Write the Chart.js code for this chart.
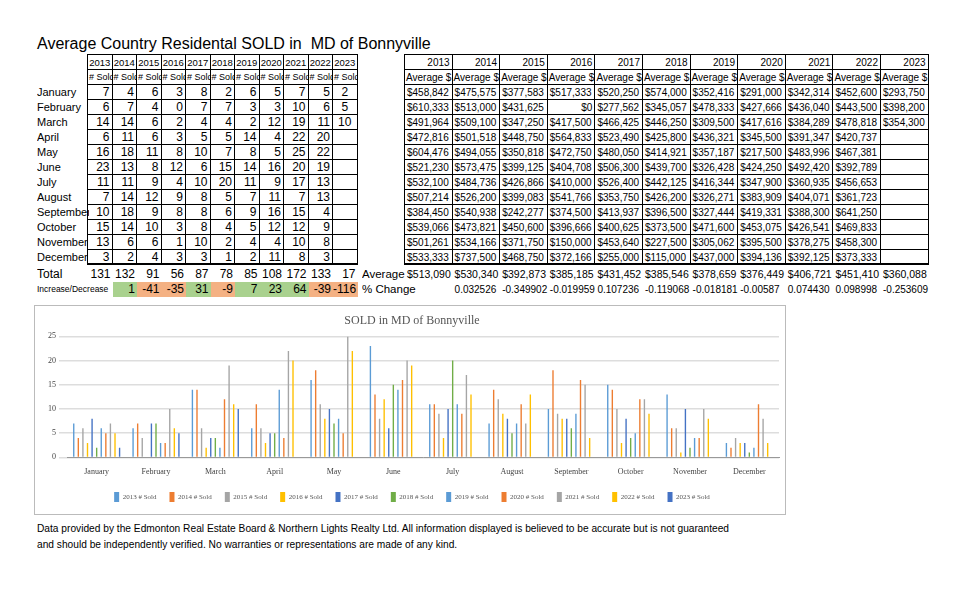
<!DOCTYPE html>
<html>
<head>
<meta charset="utf-8">
<script src="https://cdn.jsdelivr.net/npm/chart.js@4"></script>
<style>
  body { margin: 0; background: #fff; font-family: "Liberation Sans Narrow", "Liberation Sans", Arial, sans-serif; }
  #page { position: relative; width: 965px; height: 603px; }
  .c { position: absolute; box-sizing: border-box; font-size: 11px; line-height: 15px; height: 15px; white-space: nowrap; overflow: hidden; }
  .b { border-right: 1px solid #000; border-bottom: 1px solid #000; }
  .r { text-align: right; padding-right: 2px; }
  .m { text-align: center; }
  #title { position: absolute; left: 37px; top: 35px; font-family: "Liberation Sans", Arial, sans-serif; font-size: 16px; }
  #chartBox { position: absolute; left: 34px; top: 305px; width: 752px; height: 210px; border: 1px solid #bbb; box-sizing: border-box; }
  #foot { position: absolute; left: 37px; top: 521px; font-family: "Liberation Sans", Arial, sans-serif; font-size: 10.2px; line-height: 16px; }
</style>
</head>
<body>
<div id="page">
  <div id="title">Average Country Residental SOLD in&nbsp; MD of Bonnyville</div>
  <div id="chartBox"><canvas id="soldChart"></canvas></div>
  <div id="foot">Data provided by the Edmonton Real Estate Board &amp; Northern Lights Realty Ltd. All information displayed is believed to be accurate but is not guaranteed<br>and should be independently verified. No warranties or representations are made of any kind.</div>
</div>
<script>
const years = ['2013', '2014', '2015', '2016', '2017', '2018', '2019', '2020', '2021', '2022', '2023'];
const months = ['January', 'February', 'March', 'April', 'May', 'June', 'July', 'August', 'September', 'October', 'November', 'December'];

// sold counts per year, January..December
const sold2013 = [7, 6, 14, 6, 16, 23, 11, 7, 10, 15, 13, 3];
const sold2014 = [4, 7, 14, 11, 18, 13, 11, 14, 18, 14, 6, 2];
const sold2015 = [6, 4, 6, 6, 11, 8, 9, 12, 9, 10, 6, 4];
const sold2016 = [3, 0, 2, 3, 8, 12, 4, 9, 8, 3, 1, 3];
const sold2017 = [8, 7, 4, 5, 10, 6, 10, 8, 8, 8, 10, 3];
const sold2018 = [2, 7, 4, 5, 7, 15, 20, 5, 6, 4, 2, 1];
const sold2019 = [6, 3, 2, 14, 8, 14, 11, 7, 9, 5, 4, 2];
const sold2020 = [5, 3, 12, 4, 5, 16, 9, 11, 16, 12, 4, 11];
const sold2021 = [7, 10, 19, 22, 25, 20, 17, 7, 15, 12, 10, 8];
const sold2022 = [5, 6, 11, 20, 22, 19, 13, 13, 4, 9, 8, 3];
const sold2023 = [2, 5, 10, null, null, null, null, null, null, null, null, null];
const soldByYear = [sold2013, sold2014, sold2015, sold2016, sold2017, sold2018, sold2019, sold2020, sold2021, sold2022, sold2023];

const totals = [131, 132, 91, 56, 87, 78, 85, 108, 172, 133, 17];
const increase = [null, 1, -41, -35, 31, -9, 7, 23, 64, -39, -116];

// average price per year, January..December
const avg2013 = ['$458,842', '$610,333', '$491,964', '$472,816', '$604,476', '$521,230', '$532,100', '$507,214', '$384,450', '$539,066', '$501,261', '$533,333'];
const avg2014 = ['$475,575', '$513,000', '$509,100', '$501,518', '$494,055', '$573,475', '$484,736', '$526,200', '$540,938', '$473,821', '$534,166', '$737,500'];
const avg2015 = ['$377,583', '$431,625', '$347,250', '$448,750', '$350,818', '$399,125', '$426,866', '$399,083', '$242,277', '$450,600', '$371,750', '$468,750'];
const avg2016 = ['$517,333', '$0', '$417,500', '$564,833', '$472,750', '$404,708', '$410,000', '$541,766', '$374,500', '$396,666', '$150,000', '$372,166'];
const avg2017 = ['$520,250', '$277,562', '$466,425', '$523,490', '$480,050', '$506,300', '$526,400', '$353,750', '$413,937', '$400,625', '$453,640', '$255,000'];
const avg2018 = ['$574,000', '$345,057', '$446,250', '$425,800', '$414,921', '$439,700', '$442,125', '$426,200', '$396,500', '$373,500', '$227,500', '$115,000'];
const avg2019 = ['$352,416', '$478,333', '$309,500', '$436,321', '$357,187', '$326,428', '$416,344', '$326,271', '$327,444', '$471,600', '$305,062', '$437,000'];
const avg2020 = ['$291,000', '$427,666', '$417,616', '$345,500', '$217,500', '$424,250', '$347,900', '$383,909', '$419,331', '$453,075', '$395,500', '$394,136'];
const avg2021 = ['$342,314', '$436,040', '$384,289', '$391,347', '$483,996', '$492,420', '$360,935', '$404,071', '$388,300', '$426,541', '$378,275', '$392,125'];
const avg2022 = ['$452,600', '$443,500', '$478,818', '$420,737', '$467,381', '$392,789', '$456,653', '$361,723', '$641,250', '$469,833', '$458,300', '$373,333'];
const avg2023 = ['$293,750', '$398,200', '$354,300', '', '', '', '', '', '', '', '', ''];
const avgByYear = [avg2013, avg2014, avg2015, avg2016, avg2017, avg2018, avg2019, avg2020, avg2021, avg2022, avg2023];

const yearAverage = ['$513,090', '$530,340', '$392,873', '$385,185', '$431,452', '$385,546', '$378,659', '$376,449', '$406,721', '$451,410', '$360,088'];
const pctChange = ['', '0.032526', '-0.349902', '-0.019959', '0.107236', '-0.119068', '-0.018181', '-0.00587', '0.074430', '0.098998', '-0.253609'];

const seriesColors = ['#5B9BD5', '#ED7D31', '#A5A5A5', '#FFC000', '#4472C4', '#70AD47',
                      '#5B9BD5', '#ED7D31', '#A5A5A5', '#FFC000', '#4472C4'];

// ---- spreadsheet tables ----
const page = document.getElementById('page');
function cell(x, y, w, text, cls, extra) {
    const d = document.createElement('div');
    d.className = 'c ' + (cls || '');
    d.style.left = x + 'px';
    d.style.top = y + 'px';
    d.style.width = w + 'px';
    d.textContent = text;
    if (extra) Object.assign(d.style, extra);
    page.appendChild(d);
    return d;
}

const rowTop = 55, rowH = 15;
const leftX = 88, leftW = 24.5;
const rightX = 405, rightW = 47.6;

// outer borders
cell(leftX - 1, rowTop - 1, leftW * 11 + 1, '', '', { height: (rowH * 14 + 1) + 'px', border: '1px solid #000', borderBottom: '2px solid #000', background: 'transparent' });
cell(rightX - 1, rowTop - 1, rightW * 11 + 1, '', '', { height: (rowH * 14 + 1) + 'px', border: '1px solid #000', borderBottom: '2px solid #000', background: 'transparent' });

months.forEach((m, i) => cell(37, rowTop + rowH * (i + 2), 52, m, '', { fontFamily: '"Liberation Sans", Arial, sans-serif' }));

years.forEach((y, j) => {
    const lx = leftX + leftW * j, rx = rightX + rightW * j;
    cell(lx, rowTop, leftW, y, 'b m', { fontSize: '9.5px' });
    cell(lx, rowTop + rowH, leftW, '# Sold', 'b', { fontSize: '9px', paddingLeft: '1px' });
    cell(rx, rowTop, rightW, y, 'b r', { fontSize: '10px' });
    cell(rx, rowTop + rowH, rightW, 'Average $', 'b', { fontSize: '10px', paddingLeft: '1px' });
    for (let i = 0; i < 12; i++) {
        const v = soldByYear[j][i];
        cell(lx, rowTop + rowH * (i + 2), leftW, v === null ? '' : String(v), 'b ' + (j === 10 ? 'm' : 'r'), { fontSize: '12px' });
        cell(rx, rowTop + rowH * (i + 2), rightW, avgByYear[j][i], 'b ' + (avgByYear[j][i] === '$0' ? 'r' : ''), { fontSize: '10px', paddingLeft: '2px' });
    }
    cell(lx, rowTop + rowH * 14 + 2, leftW, String(totals[j]), 'r', { fontSize: '12px' });
    if (increase[j] !== null) {
        cell(lx, rowTop + rowH * 15 + 2, leftW, String(increase[j]), 'r',
             { fontSize: '12px', background: increase[j] >= 0 ? '#A9D18E' : '#F4B183' });
    }
    cell(rx, rowTop + rowH * 14 + 2, rightW, yearAverage[j], '', { fontSize: '10.5px', paddingLeft: '2px' });
    cell(rx, rowTop + rowH * 15 + 2, rightW, pctChange[j], '', { fontSize: '10px', paddingLeft: '2px' });
});
cell(37, rowTop + rowH * 14 + 2, 50, 'Total', '', { fontSize: '12px' });
cell(37, rowTop + rowH * 15 + 2, 75, 'Increase/Decrease', '', { fontSize: '8.5px' });
cell(362, rowTop + rowH * 14 + 2, 45, 'Average', '', { fontSize: '11.5px' });
cell(362, rowTop + rowH * 15 + 2, 60, '% Change', '', { fontSize: '11.5px' });

// ---- chart ----
const ctx = document.getElementById('soldChart').getContext('2d');
new Chart(ctx, {
    type: 'bar',
    data: {
        labels: months,
        datasets: years.map((y, j) => ({
            label: y + ' # Sold',
            data: soldByYear[j],
            backgroundColor: seriesColors[j],
            barPercentage: 0.3,
            categoryPercentage: 0.85
        }))
    },
    options: {
        responsive: true,
        maintainAspectRatio: false,
        animation: false,
        layout: { padding: { left: 10, right: 6, top: 0, bottom: 2 } },
        plugins: {
            title: {
                display: true,
                text: 'SOLD in MD of Bonnyville',
                color: '#555',
                font: { family: '"Liberation Serif", serif', size: 12, weight: 'normal' },
                padding: { top: 8, bottom: 8 }
            },
            legend: {
                position: 'bottom',
                labels: {
                    boxWidth: 5,
                    boxHeight: 10,
                    padding: 13,
                    color: '#555',
                    font: { family: '"Liberation Serif", serif', size: 7 }
                }
            },
            tooltip: { enabled: false }
        },
        scales: {
            x: {
                grid: { display: false },
                border: { color: '#999' },
                ticks: { padding: 2, color: '#444', font: { family: '"Liberation Serif", serif', size: 8 } }
            },
            y: {
                min: 0,
                max: 25,
                ticks: { stepSize: 5, color: '#444', font: { family: '"Liberation Serif", serif', size: 8 } },
                grid: { color: '#ddd', lineWidth: 1.5 },
                border: { display: false }
            }
        }
    }
});
</script>
</body>
</html>
